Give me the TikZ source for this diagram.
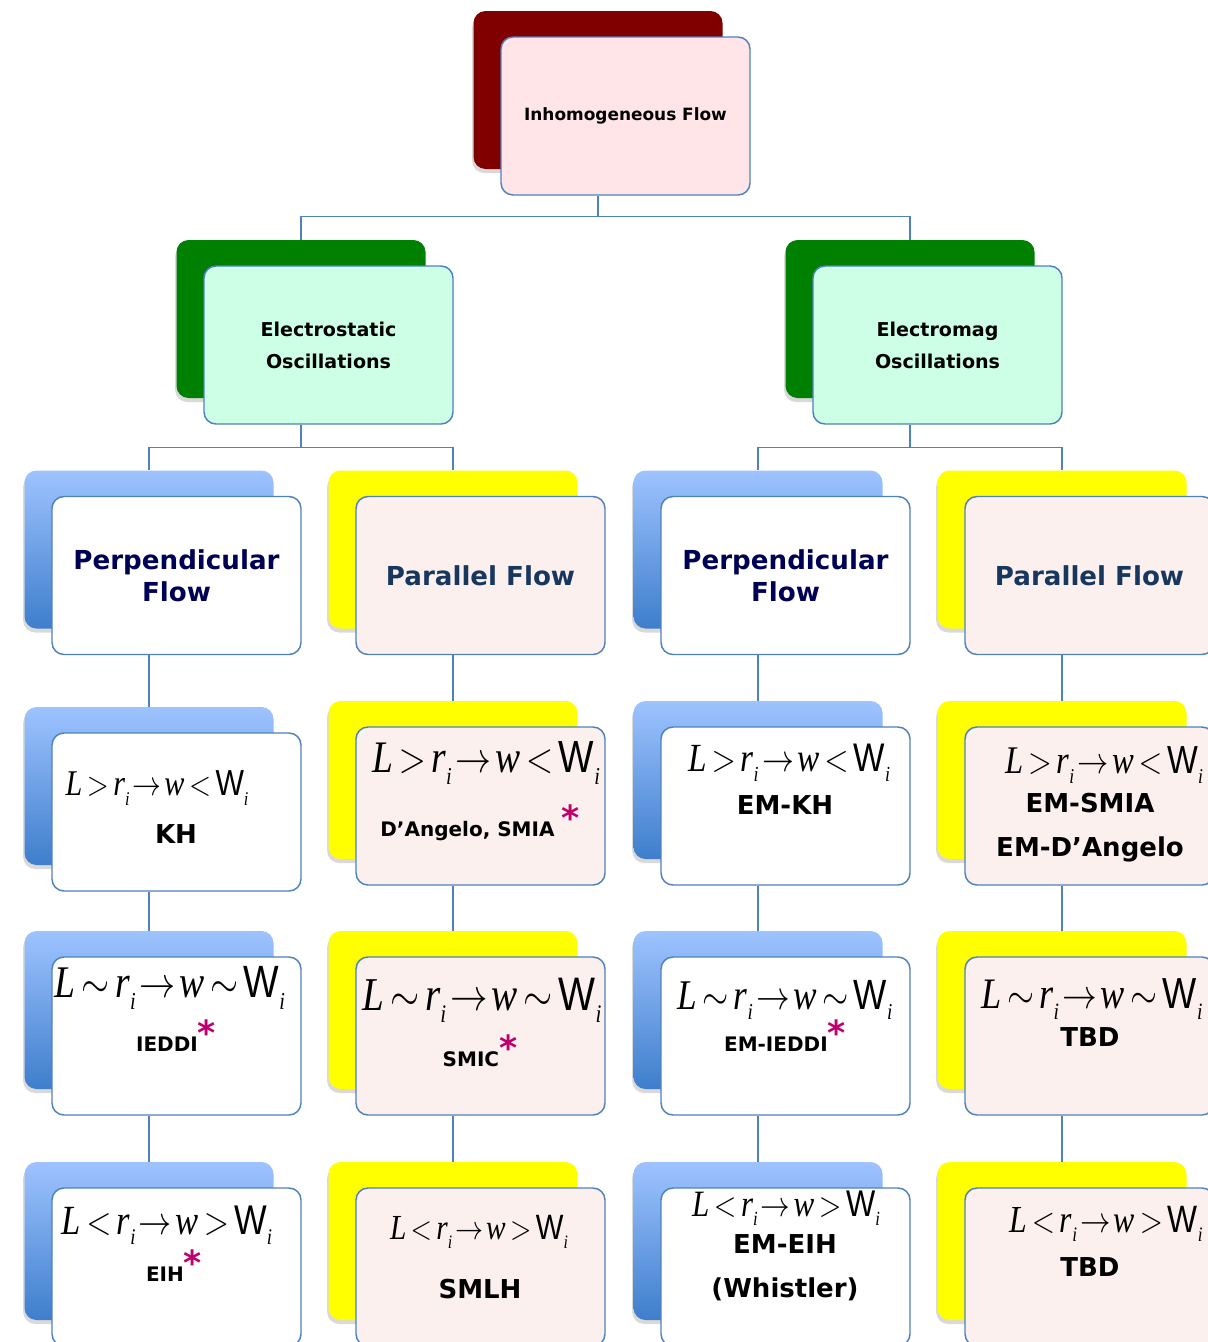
\documentclass[tikz,border=0pt]{standalone}
\usepackage{fontspec}
\setmainfont{DejaVu Sans}
\newfontfamily\fmlserif{Liberation Serif}
\newfontfamily\fmlsans{Liberation Sans}
\usepackage{graphicx}
\usetikzlibrary{positioning,shadows}

\definecolor{edgeblue}{RGB}{79,129,189}
\definecolor{maroonbk}{RGB}{128,0,0}
\definecolor{greenbk}{RGB}{0,128,0}
\definecolor{yellowbk}{RGB}{255,255,0}
\definecolor{bluetop}{RGB}{158,195,255}
\definecolor{bluebot}{RGB}{62,126,204}
\definecolor{pinkfr}{RGB}{255,228,232}
\definecolor{mintfr}{RGB}{204,255,230}
\definecolor{blushfr}{RGB}{252,240,238}
\definecolor{navytxt}{RGB}{0,0,85}
\definecolor{slatetxt}{RGB}{23,55,94}
\definecolor{starpink}{RGB}{190,0,110}

\newlength\px
\setlength\px{0.75pt}

% L ? r_i -> w ? W_i, squeezed to the given width (px)
\newcommand\subi{\raisebox{-0.55ex}{\fontsize{14}{14}\selectfont\itshape i}}
\newcommand\cond[3]{\resizebox{#1\px}{!}{\scalebox{1}[1.2]{\fontsize{26}{30}\selectfont\fmlserif
  \itshape L\hspace{0.15em}$#2$\hspace{0.15em}r\subi\hspace{0.1em}$\rightarrow$\hspace{0.1em}w\hspace{0.15em}$#3$\hspace{0.15em}{\fmlsans\upshape W}\subi}}}
\newcommand\mstar{\textcolor{starpink}{\raisebox{0.3em}{\fontsize{26}{26}\selectfont*}}}

% back card + front card
\newcommand\card[6]{%
  \node[back,#4] (#1-b) at ({#2-27.5},{#3-26}) {};
  \node[front,#5] (#1) at (#2,#3) {#6};
}

\tikzset{
  card/.style={rounded corners=9pt, minimum width=186.75pt, minimum height=118.5pt,
    inner sep=0pt, align=center},
  back/.style={card, drop shadow={shadow xshift=-1pt, shadow yshift=-3pt, opacity=0.3}},
  front/.style={card, draw=edgeblue, line width=1.1pt},
  bluebk/.style={top color=bluetop, bottom color=bluebot},
  link/.style={draw=edgeblue, line width=1.1pt},
  biglbl/.style={inner sep=0pt, align=center, font=\bfseries\fontsize{19.5}{33}\selectfont},
  smalllbl/.style={inner sep=0pt, font=\bfseries\fontsize{15}{18}\selectfont},
  fml/.style={inner sep=0pt},
  flowlbl/.style={font=\bfseries\fontsize{19.6}{24}\selectfont}
}

\begin{document}
\begin{tikzpicture}[x=0.75pt,y=-0.75pt]
\useasboundingbox (0,0) rectangle (1207,1342);

% top levels
\card{top}{625.5}{116}{fill=maroonbk}{fill=pinkfr,font=\bfseries\fontsize{12.7}{16}\selectfont}{Inhomogeneous Flow}
\card{es}{328.5}{345}{fill=greenbk}{fill=mintfr,font=\bfseries\fontsize{14.3}{24}\selectfont}{Electrostatic\\Oscillations}
\card{em}{937.5}{345}{fill=greenbk}{fill=mintfr,font=\bfseries\fontsize{14.3}{24}\selectfont}{Electromag\\Oscillations}

% flow boxes
\card{c1r1}{176.5}{575.5}{bluebk}{fill=white,flowlbl,text=navytxt}{Perpendicular\\Flow}
\card{c2r1}{480.5}{575.5}{fill=yellowbk}{fill=blushfr,flowlbl,text=slatetxt}{Parallel Flow}
\card{c3r1}{785.5}{575.5}{bluebk}{fill=white,flowlbl,text=navytxt}{Perpendicular\\Flow}
\card{c4r1}{1089.5}{575.5}{fill=yellowbk}{fill=blushfr,flowlbl,text=slatetxt}{Parallel Flow}

% regime boxes
\card{c1r2}{176.5}{812}{bluebk}{fill=white}{}
\card{c2r2}{480.5}{806}{fill=yellowbk}{fill=blushfr}{}
\card{c3r2}{785.5}{806}{bluebk}{fill=white}{}
\card{c4r2}{1089.5}{806}{fill=yellowbk}{fill=blushfr}{}
\card{c1r3}{176.5}{1036}{bluebk}{fill=white}{}
\card{c2r3}{480.5}{1036}{fill=yellowbk}{fill=blushfr}{}
\card{c3r3}{785.5}{1036}{bluebk}{fill=white}{}
\card{c4r3}{1089.5}{1036}{fill=yellowbk}{fill=blushfr}{}
\card{c1r4}{176.5}{1267}{bluebk}{fill=white}{}
\card{c2r4}{480.5}{1267}{fill=yellowbk}{fill=blushfr}{}
\card{c3r4}{785.5}{1267}{bluebk}{fill=white}{}
\card{c4r4}{1089.5}{1267}{fill=yellowbk}{fill=blushfr}{}

% L > rho_i
\node[fml] (f12) at (157,788) {\cond{183}{>}{<}};
\node[biglbl] (kh) at (176,834) {KH};
\node[fml] (f22) at (486,763) {\cond{228}{>}{<}};
\node[smalllbl] (dangelo) at (480,823) {D’Angelo, SMIA \mstar};
\node[fml] (f32) at (789,763) {\cond{202}{>}{<}};
\node[biglbl] (emkh) at (785,805) {EM-KH};
\node[fml] (f42) at (1104,765) {\cond{198}{>}{<}};
\node[biglbl] (emsmia) at (1090,828) {EM-SMIA\\EM-D’Angelo};

% L ~ rho_i
\node[fml] (f13) at (170,988) {\cond{230}{\sim}{\sim}};
\node[smalllbl] (ieddi) at (176,1036) {IEDDI\mstar};
\node[fml] (f23) at (482,1000) {\cond{239}{\sim}{\sim}};
\node[smalllbl] (smic) at (480,1051) {SMIC\mstar};
\node[fml] (f33) at (785,1000) {\cond{215}{\sim}{\sim}};
\node[smalllbl] (emieddi) at (785,1036) {EM-IEDDI\mstar};
\node[fml] (f43) at (1092,999) {\cond{221}{\sim}{\sim}};
\node[biglbl] (tbd3) at (1090,1037) {TBD};

% L < rho_i
\node[fml] (f14) at (167,1225) {\cond{210}{<}{>}};
\node[smalllbl] (eih) at (174,1266) {EIH\mstar};
\node[fml] (f24) at (479,1232) {\cond{178}{<}{>}};
\node[biglbl] (smlh) at (480,1289) {SMLH};
\node[fml] (f34) at (786,1208) {\cond{188}{<}{>}};
\node[biglbl] (emeih) at (785,1268) {EM-EIH\\(Whistler)};
\node[fml] (f44) at (1106,1224) {\cond{193}{<}{>}};
\node[biglbl] (tbd4) at (1090,1267) {TBD};

% connectors
\draw[link] (top.south -| top-b.north) -- ++(0,21) -| (es-b.north);
\draw[link] (top.south -| top-b.north) -- ++(0,21) -| (em-b.north);
\draw[link] (es.south -| es-b.north) -- ++(0,23) -| (c1r1-b.north);
\draw[link] (es.south -| es-b.north) -- ++(0,23) -| (c2r1-b.north);
\draw[link] (em.south -| em-b.north) -- ++(0,23) -| (c3r1-b.north);
\draw[link] (em.south -| em-b.north) -- ++(0,23) -| (c4r1-b.north);
\foreach \cc in {1,...,4}{
  \foreach \rr/\nn in {1/2,2/3,3/4}{
    \draw[link] (c\cc r\rr.south -| c\cc r\rr-b.north) -- (c\cc r\nn-b.north);
  }
}
\end{tikzpicture}
\end{document}
